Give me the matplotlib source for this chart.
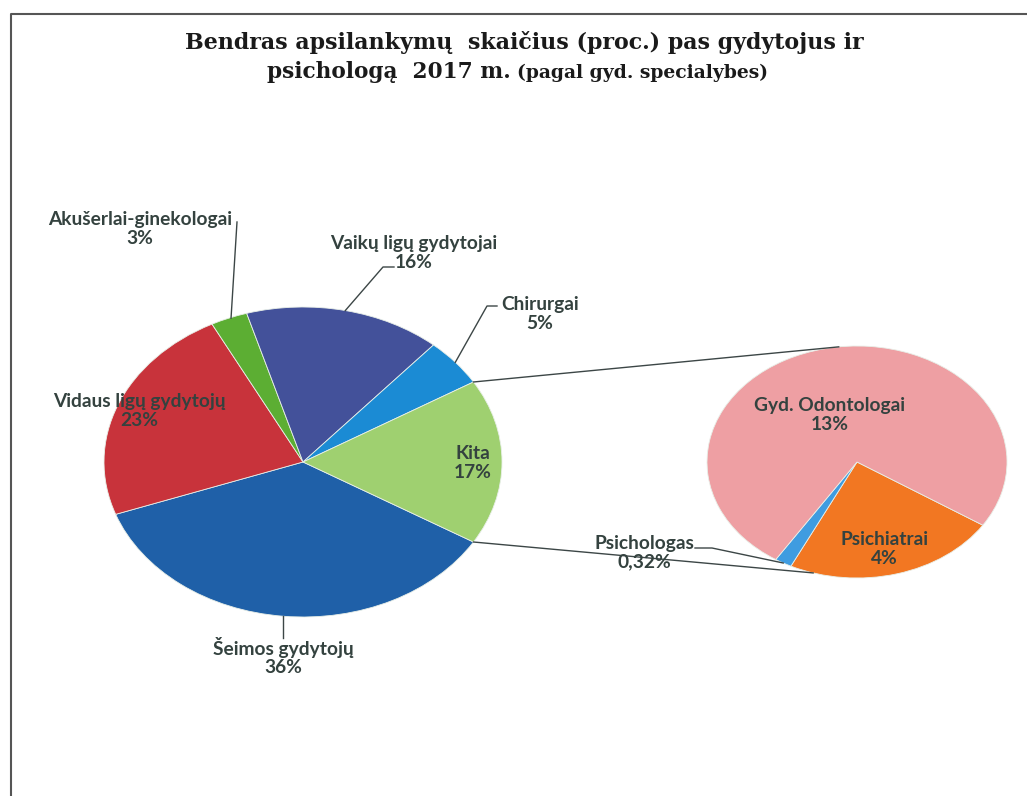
import numpy as np
import matplotlib
matplotlib.use('Agg')
import matplotlib.pyplot as plt

# Main pie (clockwise order, starting at lower edge of "Kita")
main_labels = ['Šeimos gydytojų', 'Vidaus ligų gydytojų', 'Akušerlai-ginekologai',
               'Vaikų ligų gydytojai', 'Chirurgai', 'Kita']
main_pct = ['36%', '23%', '3%', '16%', '5%', '17%']
main_vals = [36, 23, 3, 16, 5]
main_colors = ['#1f60a8', '#c8333b', '#5cae33', '#43519a', '#1b8bd4', '#9fd070']

# Secondary pie (breakdown of "Kita")
sub_labels = ['Psichiatrai', 'Psichologas', 'Gyd. Odontologai']
sub_pct = ['4%', '0,32%', '13%']
sub_vals = [4, 0.32, 13]
sub_colors = ['#f27722', '#3f9ce0', '#ee9fa3']

kita = sum(sub_vals)
main_all = main_vals + [kita]

W, H = 1027, 796
fig = plt.figure(figsize=(W / 100, H / 100), dpi=100)

# ellipse geometry of the two pies (pixels)
c1, a1, b1 = (303, 462), 199, 155
c2, a2, b2 = (857, 462), 150, 116


def pie_axes(c, a, b):
    return fig.add_axes([(c[0] - a) / W, 1 - (c[1] + b) / H, 2 * a / W, 2 * b / H])


def pt(c, a, b, ang, r=1.0):
    t = np.deg2rad(ang)
    return c[0] + r * a * np.cos(t), c[1] - r * b * np.sin(t)


def mid(w):
    return (w.theta1 + w.theta2) / 2


ax1 = pie_axes(c1, a1, b1)
start1 = -360 * kita / sum(main_all) / 2
w1, _ = ax1.pie(main_all, colors=main_colors, startangle=start1, counterclock=False,
                wedgeprops=dict(edgecolor='#e8efe8', linewidth=0.6))
ax1.set_aspect('auto')
ax1.set_xlim(-1, 1)
ax1.set_ylim(-1, 1)
ax1.axis('off')

ax2 = pie_axes(c2, a2, b2)
w2, _ = ax2.pie(sub_vals, colors=sub_colors, startangle=-33, counterclock=False,
                wedgeprops=dict(edgecolor='#e8efe8', linewidth=0.6))
ax2.set_aspect('auto')
ax2.set_xlim(-1, 1)
ax2.set_ylim(-1, 1)
ax2.axis('off')

# overlay axes in pixel coordinates for text, leaders and frame
ax = fig.add_axes([0, 0, 1, 1])
ax.set_zorder(10)
ax.patch.set_alpha(0)
ax.set_xlim(0, W)
ax.set_ylim(H, 0)
ax.axis('off')

# connector lines between pies
kw = w1[-1]
p_top = pt(c1, a1, b1, kw.theta2)
p_bot = pt(c1, a1, b1, kw.theta1)
q_top = pt(c2, a2, b2, 97)
q_bot = pt(c2, a2, b2, -107)
lc = '#3c4646'
ax.plot([p_top[0], q_top[0]], [p_top[1], q_top[1]], color=lc, lw=1)
ax.plot([p_bot[0], q_bot[0]], [p_bot[1], q_bot[1]], color=lc, lw=1)

tc = '#34423f'
tkw = dict(fontfamily='Lato', fontweight='bold', fontsize=13.8, color=tc,
           ha='center', va='center', linespacing=1.1)

# Šeimos
p = pt(c1, a1, b1, mid(w1[0]))
ax.plot([p[0], p[0]], [p[1], p[1] + 22], color=lc, lw=1)
ax.text(p[0], p[1] + 40, main_labels[0] + '\n' + main_pct[0], **tkw)

# Vidaus (label drawn over pie)
ax.text(139, 411, main_labels[1] + '\n' + main_pct[1], **tkw)

# Akušerlai
p = pt(c1, a1, b1, mid(w1[2]))
ax.plot([p[0] + 2, 237], [p[1], 222], color=lc, lw=1)
ax.text(140, 229, main_labels[2] + '\n' + main_pct[2], **tkw)

# Vaikų
p = pt(c1, a1, b1, mid(w1[3]))
ax.plot([p[0], 383, 394], [p[1], 267, 267], color=lc, lw=1)
ax.text(414, 253, main_labels[3] + '\n' + main_pct[3], **tkw)

# Chirurgai
p = pt(c1, a1, b1, mid(w1[4]))
ax.plot([p[0], 487, 497], [p[1], 306, 306], color=lc, lw=1)
ax.text(540, 314, main_labels[4] + '\n' + main_pct[4], **tkw)

# Kita
ax.text(473, 463, main_labels[5] + '\n' + main_pct[5], **tkw)

# secondary pie labels
ax.text(830, 415, sub_labels[2] + '\n' + sub_pct[2], **tkw)
ax.text(884, 549, sub_labels[0] + '\n' + sub_pct[0], **tkw)
p = pt(c2, a2, b2, mid(w2[1]))
ax.plot([695, 712, p[0]], [548, 548, p[1]], color=lc, lw=1)
ax.text(644, 553, sub_labels[1] + '\n' + sub_pct[1], **tkw)

# title
ttl = dict(fontfamily='DejaVu Serif', fontweight='bold', color='#1a1a1a', va='center')
ax.text(524, 42, 'Bendras apsilankymų  skaičius (proc.) pas gydytojus ir',
        fontsize=15.9, ha='center', **ttl)
ax.text(511, 72, 'psichologą  2017 m.', fontsize=15.6, ha='right', **ttl)
ax.text(517, 73, '(pagal gyd. specialybes)', fontsize=13.5, ha='left', **ttl)

# frame (partial border from the scan)
ax.plot([11, 11, W], [H, 14, 14], color='#555555', lw=1.5)

plt.savefig('out.png', dpi=100)
